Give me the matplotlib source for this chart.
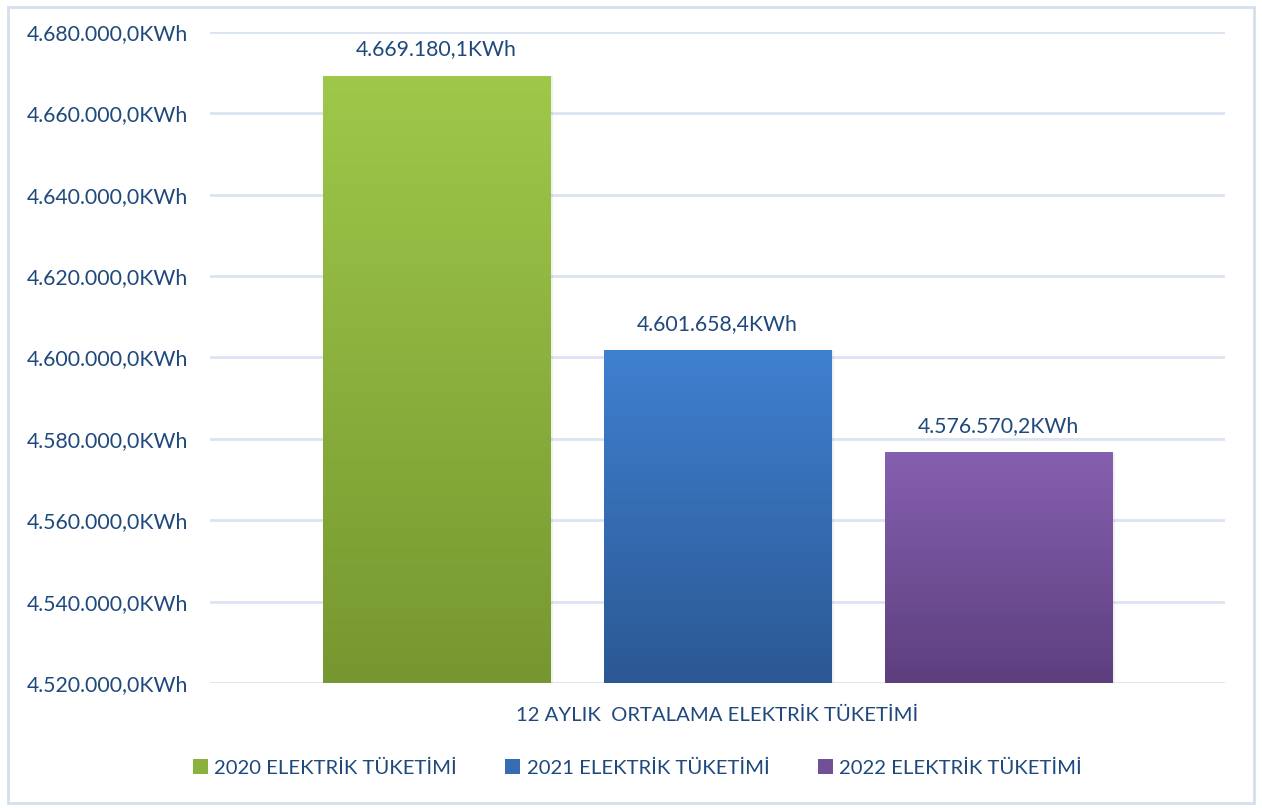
import numpy as np
import matplotlib.pyplot as plt
from matplotlib.colors import LinearSegmentedColormap, to_rgb
from matplotlib.patches import Rectangle, Patch

plt.rcParams['font.family'] = ['Lato', 'DejaVu Sans']

series = ['2020 ELEKTRİK TÜKETİMİ', '2021 ELEKTRİK TÜKETİMİ', '2022 ELEKTRİK TÜKETİMİ']
values = [4669180.1, 4601658.4, 4576570.2]
category = '12 AYLIK  ORTALAMA ELEKTRİK TÜKETİMİ'
tops = ['#9fc84a', '#3f80d0', '#8660b0']
bottoms = ['#76972f', '#2b5893', '#5d3f7e']
text_color = '#1f497d'
grid_color = '#d9e3f1'


def fmt(v):
    s = f'{v:,.1f}'
    return s.replace(',', 'X').replace('.', ',').replace('X', '.') + 'KWh'


fig = plt.figure(figsize=(12.62, 8.08), dpi=100)
ax = fig.add_axes([0.1664, 0.1547, 0.8043, 0.8057])

ymin, ymax = 4520000, 4680000
xs = np.arange(len(values)) - 1
width = 0.81

for x, v, c0, c1 in zip(xs, values, tops, bottoms):
    cmap = LinearSegmentedColormap.from_list('g', [c1, c0])
    grad = np.linspace(0, 1, 256).reshape(-1, 1)
    # soft shadow on the right side
    ax.add_patch(Rectangle((x - width / 2 + 0.01, ymin), width, v - ymin,
                           facecolor='#000000', alpha=0.06, edgecolor='none', zorder=2))
    ax.imshow(grad, cmap=cmap, origin='lower', aspect='auto',
              extent=(x - width / 2, x + width / 2, ymin, v), zorder=3)
    ax.text(x, v + 4200, fmt(v), ha='center', va='bottom', fontsize=15.3, color=text_color)

ax.set_xlim(-1.806, 1.806)
ax.set_ylim(ymin, ymax)
ticks = np.arange(ymin, ymax + 1, 20000)
ax.set_yticks(ticks)
ax.set_yticklabels([fmt(t) for t in ticks])
ax.yaxis.grid(True, color=grid_color, linewidth=2)
ax.set_axisbelow(True)
ax.tick_params(axis='y', length=0, pad=16, labelsize=15.3, labelcolor=text_color)
ax.set_xticks([0])
ax.set_xticklabels([category])
ax.tick_params(axis='x', length=0, pad=17, labelsize=14.6, labelcolor=text_color)
for s in ax.spines.values():
    s.set_visible(False)

handles = [Patch(facecolor=(np.array(to_rgb(a)) + np.array(to_rgb(b))) / 2, edgecolor='none')
           for a, b in zip(tops, bottoms)]
leg = fig.legend(handles, series, loc='center', bbox_to_anchor=(0.505, 1 - 768 / 808), ncol=3,
                 frameon=False, fontsize=14.6, handlelength=0.75, handleheight=0.75,
                 handletextpad=0.3, columnspacing=2.4)
for t in leg.get_texts():
    t.set_color(text_color)

fig.patches.append(Rectangle((8 / 1262, 5 / 808), 1246 / 1262, 796 / 808, transform=fig.transFigure,
                             fill=False, edgecolor='#d5dfee', linewidth=2))

fig.savefig('out.png', dpi=100)
